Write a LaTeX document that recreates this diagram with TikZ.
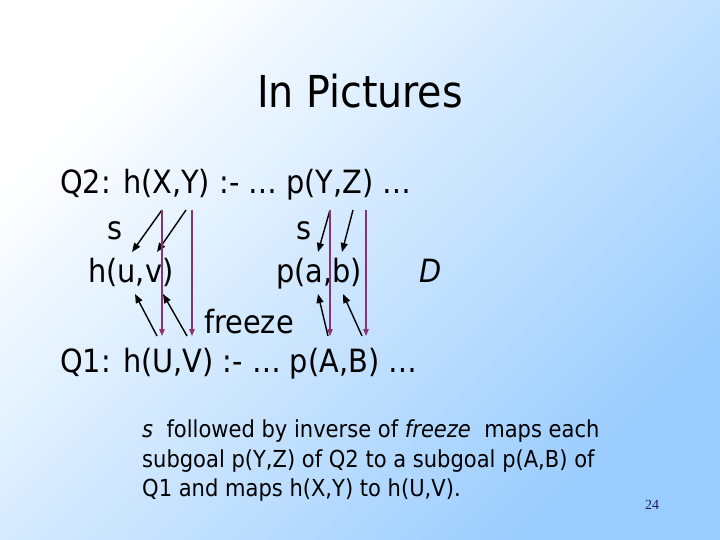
\documentclass[tikz,border=0pt]{standalone}
\usepackage{fontspec}
\setmainfont{DejaVu Sans Condensed}[
  ItalicFont={DejaVu Sans Condensed Oblique},
  BoldFont={DejaVu Sans Condensed Bold}]
\newfontfamily\pagefont{Liberation Serif}
\usetikzlibrary{arrows.meta, positioning}
\definecolor{slideblue}{RGB}{153,204,255}
\definecolor{mapplum}{RGB}{140,50,110}
\definecolor{pagenavy}{RGB}{30,30,80}

\begin{document}
\begin{tikzpicture}[x=1pt, y=-1pt,
    >={Triangle[length=9pt,width=7pt]},
    every node/.style={inner sep=0pt, anchor=base west},
    title/.style={font=\fontsize{44}{50}\selectfont, anchor=base},
    big/.style={font=\fontsize{32}{38}\selectfont},
    small/.style={font=\fontsize{23.4}{30}\selectfont},
    smap/.style={->, line width=1.4pt},
    comp/.style={->, draw=mapplum, line width=1.2pt,
      >={Triangle[length=7pt,width=5.5pt]}}]

    \useasboundingbox (0,0) rectangle (720,540);
    \shade[top color=white, bottom color=slideblue, shading angle=45]
      (0,0) rectangle (720,540);

    \node[title]  (title)  at (360,108) {In Pictures};

    \node[big]    (q_2)    at (60,194)  {Q2: h(X,Y) :- … p(Y,Z) …};
    \node[big]    (s_h)    at (107,240) {s};
    \node[big]    (s_p)    at (296,240) {s};
    \node[big]    (h_uv)   at (88,282)  {h(u,v)};
    \node[big]    (p_ab)   at (276,282) {p(a,b)};
    \node[big]    (d)      at (419,282) {\textit{D}};
    \node[big]    (freeze) at (204,333) {freeze};
    \node[big]    (q_1)    at (60,372)  {Q1: h(U,V) :- … p(A,B) …};

    \node[small]  (note_1) at (142,437) {\textit{s}\ \ followed by inverse of \textit{freeze}\ \ maps each};
    \node[small]  (note_2) at (142,467) {subgoal p(Y,Z) of Q2 to a subgoal p(A,B) of};
    \node[small]  (note_3) at (142,496) {Q1 and maps h(X,Y) to h(U,V).};

    \node[font=\pagefont\fontsize{14}{16}\selectfont, text=pagenavy]
                  (page)   at (645,509.5) {24};

    % ends under Q2
    \coordinate (x_2)  at (162,210);
    \coordinate (y_2)  at (186,210);
    \coordinate (yy_2) at (192,210);
    \coordinate (y_3)  at (330,210);
    \coordinate (z_2)  at (353,210);
    \coordinate (zz_2) at (366,210);
    % ends above D
    \coordinate (u_s)  at (132,252);
    \coordinate (v_s)  at (157,252);
    \coordinate (a_s)  at (318,252);
    \coordinate (b_s)  at (342,252);
    % ends below D
    \coordinate (u_f)  at (135,294);
    \coordinate (v_f)  at (163,294);
    \coordinate (a_f)  at (318,294);
    \coordinate (b_f)  at (343,294);
    % ends above Q1
    \coordinate (uu_1) at (157,336);
    \coordinate (vv_1) at (187,336);
    \coordinate (aa_1) at (328,336);
    \coordinate (bb_1) at (362,336);
    \coordinate (u_1)  at (162,336);
    \coordinate (v_1)  at (192,336);
    \coordinate (a_1)  at (330,336);
    \coordinate (b_1)  at (366,336);

    \path
    (x_2)  edge [smap] (u_s)
    (y_2)  edge [smap] (v_s)
    (y_3)  edge [smap] (a_s)
    (z_2)  edge [smap] (b_s)
    (uu_1) edge [smap] (u_f)
    (vv_1) edge [smap] (v_f)
    (aa_1) edge [smap] (a_f)
    (bb_1) edge [smap] (b_f)
    (x_2)  edge [comp] (u_1)
    (yy_2) edge [comp] (v_1)
    (y_3)  edge [comp] (a_1)
    (zz_2) edge [comp] (b_1);
\end{tikzpicture}
\end{document}
